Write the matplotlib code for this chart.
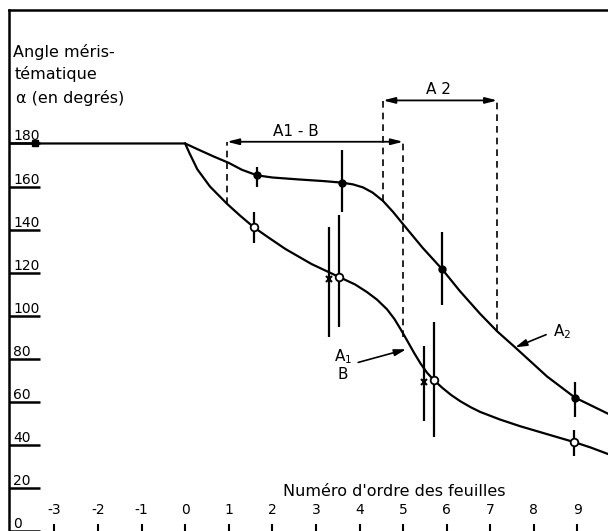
import matplotlib
matplotlib.use("Agg")
import matplotlib.pyplot as plt

plt.rcParams['font.family'] = ['DejaVu Sans']
plt.rcParams['mathtext.default'] = 'regular'

# Curve A2 (upper, filled points)
a2_x = [-4.1, 0, 0.3, 0.65, 1.0, 1.3, 1.65, 2.0, 2.6, 3.2, 3.6, 3.85, 4.08, 4.3, 4.54, 4.77,
        5.0, 5.45, 5.9, 6.3, 6.77, 7.16, 7.57, 8.3, 8.94, 9.8]
a2_y = [180, 180, 177.2, 174, 171, 167.8, 165.2, 164.2, 163.3, 162.5, 161.8, 161, 159.6, 157.2, 153.3, 148.2,
        142.5, 131.5, 121.5, 111.5, 100.8, 92.7, 85.3, 71.8, 62, 53.5]
a2_pts_x = [1.65, 3.6, 5.9, 8.94]
a2_pts_y = [165.2, 161.8, 121.5, 62]
a2_lo = [160, 148, 105, 53]
a2_hi = [169, 177, 139, 69]

# Curve A1 / B (lower, open points)
a1_x = [0, 0.1, 0.28, 0.57, 0.96, 1.26, 1.58, 1.95, 2.3, 2.9, 3.53, 3.9, 4.17, 4.4, 4.63, 4.8, 4.95,
        5.1, 5.25, 5.4, 5.55, 5.71, 5.9, 6.1, 6.31, 6.55, 6.77, 7.22, 7.68, 8.3, 8.94, 9.3, 9.8]
a1_y = [180, 175.5, 168, 160, 152, 146.5, 141, 135.8, 131, 124, 118, 114.5, 111, 107.5, 103, 98.5, 93.5,
        88.2, 82.8, 77.8, 73.5, 70, 66.5, 63.2, 60.3, 57.5, 55.3, 51.8, 48.7, 45, 41.2, 38.8, 35]
a1_pts_x = [1.58, 3.53, 5.71, 8.92]
a1_pts_y = [141, 118, 70, 41.3]
a1_lo = [134, 94.6, 43.6, 35]
a1_hi = [148, 147, 97, 47]
b_pts_x = [3.3, 5.48]
b_pts_y = [117, 69]
b_lo = [90, 51]
b_hi = [141, 86]

# starting point on the plateau
start_x = [-3.45]
start_y = [180]

# spans shown by dashed lines and double arrows
a1b_span = [0.96, 5.0]
a1b_level = 180.8
a1b_drop = [152, 90]
a2_span = [4.54, 7.16]
a2_level = 200
a2_drop = [153.3, 92.7]

x_ticks = list(range(-3, 10))
y_ticks = list(range(0, 181, 20))

fig = plt.figure(figsize=(6.08, 5.31), dpi=100)
ax = fig.add_axes([9 / 608, 0, 1 - 9 / 608, 1 - 10 / 531])
ax.set_xlim(-4.04, 9.70)
ax.set_ylim(0, 242)

ax.plot(a2_x, a2_y, color='black', lw=1.6)
ax.plot(a1_x, a1_y, color='black', lw=1.6)

ax.vlines(a2_pts_x, a2_lo, a2_hi, color='black', lw=1.6)
ax.vlines(a1_pts_x, a1_lo, a1_hi, color='black', lw=1.6)
ax.vlines(b_pts_x, b_lo, b_hi, color='black', lw=1.6)

ax.plot(a2_pts_x, a2_pts_y, 'o', ms=5, color='black', zorder=4)
ax.plot(a1_pts_x, a1_pts_y, 'o', ms=5.5, mfc='white', mec='black', mew=1.3, zorder=4)
ax.plot(b_pts_x, b_pts_y, 'x', ms=4, color='black', mew=1.5, zorder=4)
ax.plot(start_x, start_y, 's', ms=5, color='black', zorder=4)

# dashed guides
ax.vlines(a1b_span, a1b_drop, a1b_level, color='black', lw=1.2, linestyles=(0, (4, 3)))
ax.vlines(a2_span, a2_drop, a2_level, color='black', lw=1.2, linestyles=(0, (4, 3)))

arrow = dict(arrowstyle='<|-|>,head_length=0.7,head_width=0.18', color='black', lw=1.3,
             shrinkA=0, shrinkB=0)
ax.annotate('', xy=(a1b_span[0], a1b_level), xytext=(a1b_span[1], a1b_level), arrowprops=arrow)
ax.annotate('', xy=(a2_span[0], a2_level), xytext=(a2_span[1], a2_level), arrowprops=arrow)
ax.text(sum(a1b_span) / 2 - 0.45, a1b_level + 1.5, 'A1 - B', ha='center', va='bottom', fontsize=11)
ax.text(sum(a2_span) / 2 - 0.05, a2_level + 1.5, 'A 2', ha='center', va='bottom', fontsize=11)

# curve labels
one_arrow = dict(arrowstyle='-|>,head_length=0.7,head_width=0.2', color='black', lw=1.2,
                 shrinkA=0, shrinkB=0)
ax.annotate('', xy=(5.07, 84.4), xytext=(3.97, 78.3), arrowprops=one_arrow)
ax.text(3.62, 81, r'A$_1$', ha='center', va='center', fontsize=11)
ax.text(3.62, 72.5, 'B', ha='center', va='center', fontsize=11)
ax.annotate('', xy=(7.57, 85.3), xytext=(8.28, 91.2), arrowprops=one_arrow)
ax.text(8.64, 92.5, r'A$_2$', ha='center', va='center', fontsize=11)

# axes styling
for side in ['right', 'bottom']:
    ax.spines[side].set_visible(False)
for side in ['left', 'top']:
    ax.spines[side].set_linewidth(1.8)

ax.set_xticks(x_ticks)
ax.set_xticklabels([str(v) for v in x_ticks])
ax.tick_params(axis='x', direction='in', length=5, width=1.5, pad=-20, labelsize=10)

ax.set_yticks(y_ticks)
ax.set_yticklabels([str(v) for v in y_ticks])
ax.tick_params(axis='y', direction='in', length=22, width=1.8, pad=-3, labelsize=10)
for lab in ax.get_yticklabels():
    lab.set_horizontalalignment('left')
    lab.set_verticalalignment('bottom')

ax.text(4.79, 18.5, "Numéro d'ordre des feuilles", ha='center', va='center', fontsize=11.5)

fig.text(13 / 608, 1 - 57 / 531, 'Angle méris-', ha='left', va='baseline', fontsize=11.5)
fig.text(15 / 608, 1 - 79 / 531, 'tématique', ha='left', va='baseline', fontsize=11.5)
fig.text(16 / 608, 1 - 103 / 531, 'α (en degrés)', ha='left', va='baseline', fontsize=11.5)

fig.savefig('out.png', dpi=100)
